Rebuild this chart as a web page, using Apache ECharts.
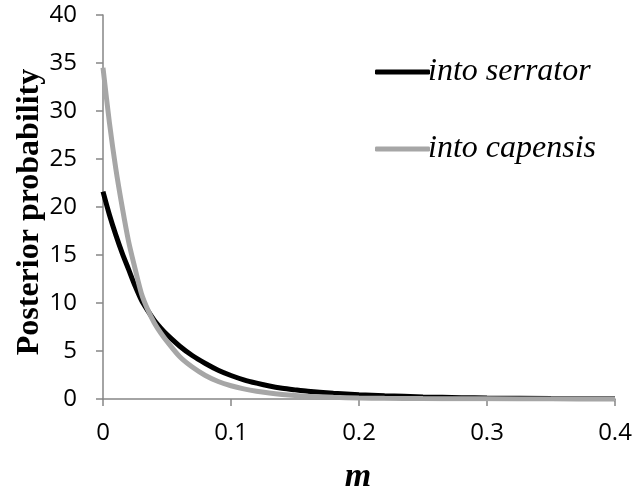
<!DOCTYPE html>
<html>
<head>
<meta charset="utf-8">
<script src="https://cdn.jsdelivr.net/npm/echarts@6/dist/echarts.min.js"></script>
<style>
html,body{margin:0;padding:0;background:#fff;}
#chart{width:642px;height:497px;}
</style>
</head>
<body>
<div id="chart"></div>
<script>
// Data
const mValues = [0, 0.005, 0.01, 0.015, 0.02, 0.025, 0.03, 0.035, 0.04, 0.045, 0.05,
  0.06, 0.07, 0.08, 0.09, 0.10, 0.11, 0.12, 0.13, 0.14, 0.15, 0.16, 0.18, 0.20,
  0.22, 0.25, 0.28, 0.30, 0.35, 0.40];
const serratorValues = [21.6, 19.2, 17.1, 15.2, 13.5, 11.8, 10.3, 9.2, 8.2, 7.4, 6.7,
  5.5, 4.5, 3.7, 3.0, 2.45, 2.0, 1.65, 1.35, 1.12, 0.95, 0.8, 0.6, 0.45,
  0.34, 0.22, 0.14, 0.1, 0.05, 0.02];
const capensisValues = [34.5, 28.8, 24.0, 20.0, 16.4, 13.6, 11.0, 9.3, 7.95, 6.9, 6.0,
  4.4, 3.3, 2.45, 1.82, 1.38, 1.05, 0.8, 0.62, 0.48, 0.37, 0.29, 0.18, 0.11,
  0.07, 0.04, 0.02, 0.015, 0.005, 0.002];
const seriesNames = ['into serrator', 'into capensis'];
const xTitle = 'm';
const yTitle = 'Posterior probability';

const pair = (vals) => mValues.map((m, i) => [m, vals[i]]);

const chart = echarts.init(document.getElementById('chart'), null, {renderer: 'canvas'});
const axisColor = '#868686';
const tickFont = {fontFamily: 'Open Sans', fontSize: 24, color: '#000'};

chart.setOption({
  animation: false,
  backgroundColor: '#fff',
  grid: {left: 103, right: 27, top: 15, bottom: 98, containLabel: false},
  xAxis: {
    type: 'value', min: 0, max: 0.4, interval: 0.1,
    axisLine: {show: true, onZero: false, lineStyle: {color: axisColor, width: 1.5}},
    axisTick: {show: true, inside: false, length: 7, lineStyle: {color: axisColor, width: 1.5}},
    splitLine: {show: false},
    axisLabel: Object.assign({margin: 22, formatter: (v) => String(+v.toFixed(1))}, tickFont)
  },
  yAxis: {
    type: 'value', min: 0, max: 40, interval: 5,
    axisLine: {show: true, lineStyle: {color: axisColor, width: 1.5}},
    axisTick: {show: true, inside: false, length: 7, lineStyle: {color: axisColor, width: 1.5}},
    splitLine: {show: false},
    axisLabel: Object.assign({margin: 26}, tickFont)
  },
  legend: {
    orient: 'vertical', left: 370, top: 51,
    itemWidth: 55, itemHeight: 5, itemGap: 45,
    icon: 'roundRect',
    textStyle: {fontFamily: 'Liberation Serif', fontStyle: 'italic', fontSize: 32, color: '#000', lineHeight: 32, padding: [0,0,0,-7]},
    data: seriesNames
  },
  series: [
    {name: seriesNames[0], type: 'line', data: pair(serratorValues), smooth: 0.3, showSymbol: false,
     symbol: 'none', color: '#000000', lineStyle: {width: 5, color: '#000000'}, z: 2},
    {name: seriesNames[1], type: 'line', data: pair(capensisValues), smooth: 0.3, showSymbol: false,
     symbol: 'none', color: '#A6A6A6', lineStyle: {width: 5, color: '#A6A6A6'}, z: 3}
  ],
  graphic: [
    {type: 'text', x: 358, y: 460,
     style: {text: xTitle, fontFamily: 'Liberation Serif', fontWeight: 'bold', fontStyle: 'italic', fontSize: 34, fill: '#000', align: 'center', verticalAlign: 'top'}},
    {type: 'text', x: 30, y: 212, rotation: Math.PI / 2,
     style: {text: yTitle, fontFamily: 'Liberation Serif', fontWeight: 'bold', fontSize: 32, fill: '#000', align: 'center', verticalAlign: 'middle'}}
  ]
});
</script>
</body>
</html>
